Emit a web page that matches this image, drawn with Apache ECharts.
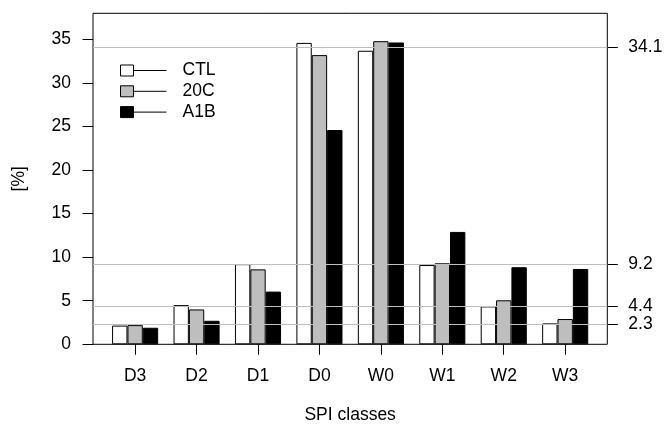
<!DOCTYPE html>
<html>
<head>
<meta charset="utf-8">
<script src="https://cdn.jsdelivr.net/npm/echarts@6/dist/echarts.min.js"></script>
<style>html,body{margin:0;padding:0;background:#fff;}#c{width:664px;height:428px;}</style>
</head>
<body>
<div id="c"></div>
<script>
const categories = ['D3', 'D2', 'D1', 'D0', 'W0', 'W1', 'W2', 'W3'];
const seriesNames = ['CTL', '20C', 'A1B'];
const ctlValues = [2.15, 4.5, 9.2, 34.6, 33.7, 9.1, 4.35, 2.4];
const c20Values = [2.2, 4.0, 8.6, 33.2, 34.8, 9.3, 5.05, 2.9];
const a1bValues = [1.9, 2.7, 6.05, 24.6, 34.65, 12.9, 8.85, 8.65];
const leftTicks = [0, 5, 10, 15, 20, 25, 30, 35];
const refValues = [2.3, 4.4, 9.2, 34.1];
const yMax = 38;

const FONT = "'Liberation Sans', Arial, sans-serif";
const FS = 17.5;
const fills = ['#ffffff', '#bebebe', '#000000'];
const values = [ctlValues, c20Values, a1bValues];
const legendIcon = 'path://M0,0L13,0L13,11L0,11Z M13,5.5L46,5.5';

const chart = echarts.init(document.getElementById('c'), null, {renderer: 'canvas'});

const barSeries = seriesNames.map((name, i) => ({
  name: name,
  type: 'bar',
  xAxisIndex: 1,
  yAxisIndex: 2,
  data: values[i],
  barGap: '0%',
  barCategoryGap: '25%',
  z: 3,
  itemStyle: {color: fills[i], borderColor: '#000', borderWidth: 1},
  emphasis: {disabled: true}
}));

const option = {
  animation: false,
  backgroundColor: '#fff',
  textStyle: {fontFamily: FONT},
  legend: {
    left: 120,
    top: 61.5,
    padding: 0,
    orient: 'vertical',
    itemWidth: 46,
    itemHeight: 11,
    itemGap: 2.8,
    icon: legendIcon,
    itemStyle: {borderColor: '#000', borderWidth: 1},
    textStyle: {fontFamily: FONT, fontSize: FS, color: '#000', padding: [0, 0, 0, 11]},
    data: seriesNames,
    selectedMode: false
  },
  grid: [
    {left: 93, right: 56.7, top: 13.3, bottom: 83.7, show: true, borderColor: '#000', borderWidth: 1,
      backgroundColor: 'transparent', containLabel: false, outerBoundsMode: 'none'},
    {left: 104.4, right: 68.1, top: 13.3, bottom: 83.7, containLabel: false, outerBoundsMode: 'none'}
  ],
  xAxis: [
    {type: 'value', gridIndex: 0, min: 0, max: 1, show: false},
    {
      type: 'category', gridIndex: 1, data: categories,
      axisLine: {show: false},
      axisTick: {show: true, alignWithLabel: true, length: 10.5, lineStyle: {color: '#000', width: 1}},
      axisLabel: {fontFamily: FONT, fontSize: FS, color: '#000', margin: 22.5},
      splitLine: {show: false},
      name: 'SPI classes', nameLocation: 'middle', nameGap: 62,
      nameTextStyle: {fontFamily: FONT, fontSize: FS, color: '#000'}
    }
  ],
  yAxis: [
    {
      type: 'value', gridIndex: 0, position: 'left', min: 0, max: yMax,
      axisLine: {show: false},
      axisTick: {show: true, customValues: leftTicks, length: 10.5, lineStyle: {color: '#000', width: 1}},
      axisLabel: {customValues: leftTicks, fontFamily: FONT, fontSize: FS, color: '#000', margin: 22},
      splitLine: {show: false},
      name: '[%]', nameLocation: 'middle', nameGap: 65,
      nameTextStyle: {fontFamily: FONT, fontSize: FS, color: '#000'}
    },
    {
      type: 'value', gridIndex: 0, position: 'right', min: 0, max: yMax,
      axisLine: {show: false},
      axisTick: {show: true, customValues: refValues, length: 10.5, lineStyle: {color: '#000', width: 1}},
      axisLabel: {customValues: refValues, fontFamily: FONT, fontSize: FS, color: '#000', margin: 21,
        formatter: v => String(v)},
      splitLine: {show: false}
    },
    {type: 'value', gridIndex: 1, min: 0, max: yMax, show: false}
  ],
  series: [
    {
      type: 'line', xAxisIndex: 0, yAxisIndex: 1, data: [], z: 1, silent: true,
      markLine: {
        silent: true, symbol: 'none', animation: false,
        label: {show: false},
        lineStyle: {color: '#bebebe', type: 'solid', width: 1},
        data: refValues.map(v => ({yAxis: v}))
      }
    }
  ].concat(barSeries)
};

chart.setOption(option);
</script>
</body>
</html>
